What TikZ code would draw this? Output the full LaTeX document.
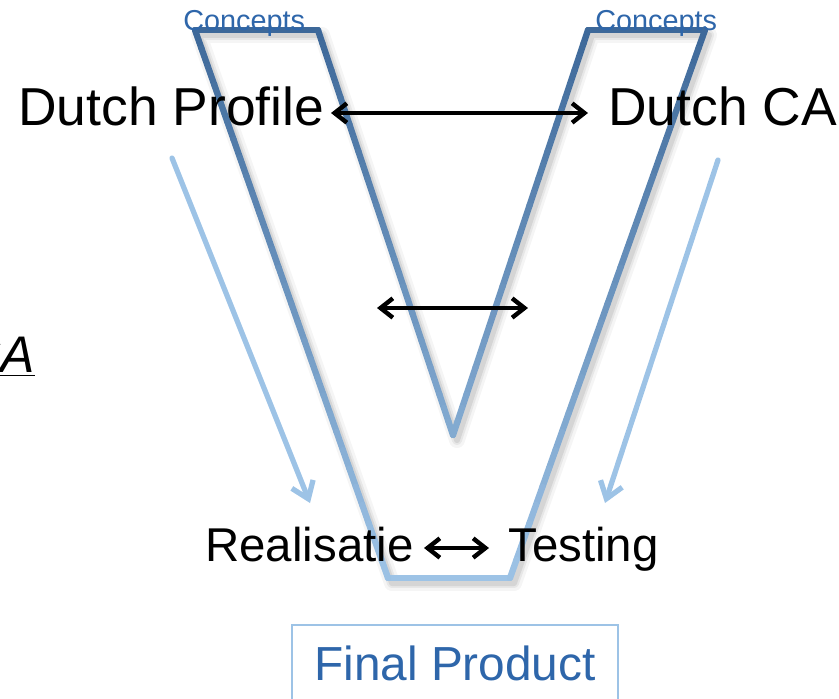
\documentclass[tikz,border=0pt]{standalone}
\usepackage{fontspec}
\setmainfont{Liberation Sans}
\usetikzlibrary{arrows.meta,calc}

\definecolor{vdark}{HTML}{3D6899}
\definecolor{vlight}{HTML}{9DC3E6}
\definecolor{txtblue}{HTML}{2E66AA}

% one side of the V, shaded from dark (top) to light (bottom)
\newcommand{\vstroke}[4]{%
  \foreach \k in {1,...,30}{%
    \pgfmathsetmacro{\xa}{#1+(#3-#1)/30*(\k-1)}%
    \pgfmathsetmacro{\ya}{#2+(#4-#2)/30*(\k-1)}%
    \pgfmathsetmacro{\xb}{#1+(#3-#1)/30*\k}%
    \pgfmathsetmacro{\yb}{#2+(#4-#2)/30*\k}%
    \pgfmathtruncatemacro{\mix}{(0.5*\ya+0.5*\yb-30)/5.48}%
    \draw[vband,vlight!\mix!vdark] (\xa,\ya) -- (\xb,\yb);
  }}

\tikzset{
  vband/.style={line width=3.6pt,line cap=round,line join=round},
  vshadow/.style={line join=round,black},
  bigtxt/.style={font=\fontsize{30.4}{36}\selectfont,inner sep=0pt,anchor=base west},
  midtxt/.style={font=\fontsize{27}{32}\selectfont,inner sep=0pt,anchor=base west},
  smalltxt/.style={font=\fontsize{16.4}{20}\selectfont,inner sep=0pt,anchor=base west,text=txtblue},
  dblarrow/.style={{Straight Barb[length=7pt,width=11pt]}-{Straight Barb[length=7pt,width=11pt]},line width=2.5pt},
  flowarrow/.style={-{Straight Barb[length=9pt,width=13pt]},line width=3pt,vlight,line cap=round},
  finalbox/.style={draw=vlight,line width=1.2pt,text=txtblue,font=\fontsize{27.2}{32}\selectfont,
    inner sep=0pt,minimum width=6.52cm,minimum height=1.72cm,text height=0.68cm,text depth=0.2cm}
}

\begin{document}
\begin{tikzpicture}[x=0.02cm,y=-0.02cm]
  \useasboundingbox (0,0) rectangle (839,698);

  % soft shadow of the V
  \foreach \w/\o in {16/0.04,10/0.06,6/0.08}{
    \draw[vshadow,line width=\w*0.567pt,opacity=\o,shift={(4,5)}]
      (195,30) -- (388,578) -- (510,578) -- (705,30) -- (588,30) -- (453,435) -- (318,30) -- cycle;
  }

  % the V
  \draw[vband,vdark] (195,30) -- (318,30);
  \draw[vband,vdark] (588,30) -- (705,30);
  \draw[vband,vlight] (388,578) -- (510,578);
  \vstroke{195}{30}{388}{578}
  \vstroke{705}{30}{510}{578}
  \vstroke{318}{30}{453}{435}
  \vstroke{588}{30}{453}{435}

  % texts
  \node[smalltxt] (conceptsL) at (183,30) {Concepts};
  \node[smalltxt] (conceptsR) at (595,30) {Concepts};
  \node[bigtxt] (profile) at (18,125) {Dutch Profile};
  \node[bigtxt] (dutchca) at (608,125) {Dutch CA};
  \node[bigtxt,anchor=base east,font=\fontsize{29.3}{35}\selectfont\itshape] (ca) at (35,372) {\underline{CA}};
  \node[midtxt] (realisatie) at (205,561) {Realisatie};
  \node[midtxt] (testing) at (508,561) {Testing};
  \node[finalbox] (final) at (455,668) {Final Product};

  % arrow ends
  \coordinate (topL) at (331,113);
  \coordinate (topR) at (588,113);
  \coordinate (midL) at (377,308);
  \coordinate (midR) at (528,308);
  \coordinate (botL) at (424,548);
  \coordinate (botR) at (489,548);
  \coordinate (downLa) at (172,158);
  \coordinate (downLb) at (310,503);
  \coordinate (downRa) at (718,160);
  \coordinate (downRb) at (605,503);

  \draw[dblarrow] (topL) -- (topR);
  \draw[dblarrow] (midL) -- (midR);
  \draw[dblarrow] (botL) -- (botR);
  \draw[flowarrow] (downLa) -- (downLb);
  \draw[flowarrow] (downRa) -- (downRb);
\end{tikzpicture}
\end{document}
